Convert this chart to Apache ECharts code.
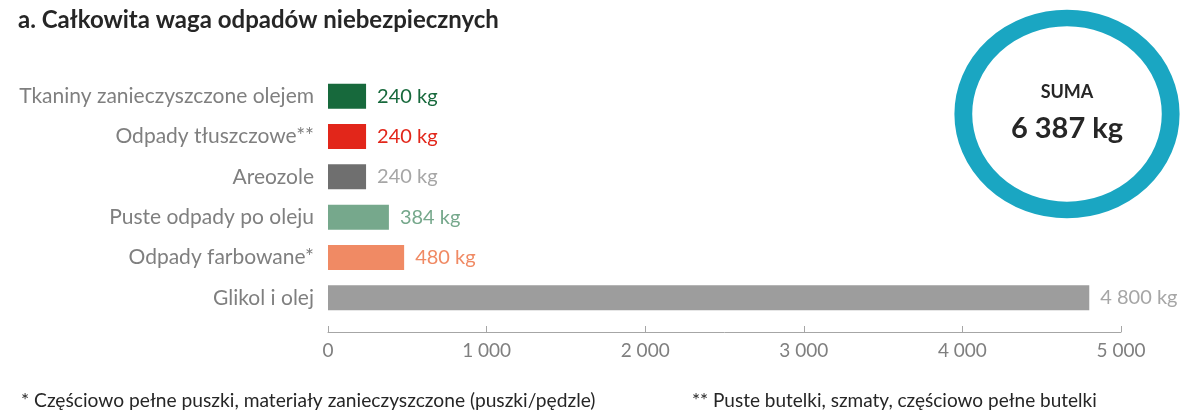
<!DOCTYPE html>
<html>
<head>
<meta charset="utf-8">
<script src="https://cdn.jsdelivr.net/npm/echarts@6/dist/echarts.min.js"></script>
<style>
  html, body { margin: 0; padding: 0; background: #ffffff; }
  #chart { width: 1182px; height: 411px; }
</style>
</head>
<body>
<div id="chart"></div>
<script>
// Hazardous waste by type, in kilograms
const categories = [
  'Tkaniny zanieczyszczone olejem',
  'Odpady tłuszczowe**',
  'Areozole',
  'Puste odpady po oleju',
  'Odpady farbowane*',
  'Glikol i olej'
];
const values = [240, 240, 240, 384, 480, 4800];
const total = 6387;
const axisTicks = [0, 1000, 2000, 3000, 4000, 5000];
const titleText = 'a. Całkowita waga odpadów niebezpiecznych';
const footnotes = [
  '* Częściowo pełne puszki, materiały zanieczyszczone (puszki/pędzle)',
  '** Puste butelki, szmaty, częściowo pełne butelki'
];

// Styling per bar
const barColors = ['#17693c', '#e2261a', '#6f6f6f', '#76a88c', '#f08a64', '#9d9d9d'];
const labelColors = ['#17693c', '#e2261a', '#a6a6a6', '#76a88c', '#f08a64', '#a6a6a6'];

const FONT = 'Lato, "Open Sans", sans-serif';

function fmt(n) {
  return String(n).replace(/\B(?=(\d{3})+(?!\d))/g, '\u00a0');
}

const chart = echarts.init(document.getElementById('chart'), null, { renderer: 'canvas' });

chart.setOption({
  backgroundColor: '#ffffff',
  animation: false,
  textStyle: { fontFamily: FONT },
  title: {
    text: titleText,
    left: 13,
    top: 3,
    textStyle: { fontFamily: FONT, fontSize: 24, fontWeight: 'bold', color: '#262626' }
  },
  grid: { left: 328, right: 61, top: 76, bottom: 93, containLabel: false },
  xAxis: {
    type: 'value',
    min: axisTicks[0],
    max: axisTicks[axisTicks.length - 1],
    interval: axisTicks[1] - axisTicks[0],
    offset: 14,
    splitLine: { show: false },
    axisLine: { show: true, lineStyle: { color: '#a6a6a6', width: 1 } },
    axisTick: { show: true, inside: true, length: 6, lineStyle: { color: '#a6a6a6' } },
    axisLabel: {
      margin: 9,
      color: '#7f7f7f',
      fontSize: 19,
      fontFamily: FONT,
      formatter: v => fmt(v)
    }
  },
  yAxis: {
    type: 'category',
    inverse: true,
    data: categories,
    axisLine: { show: false },
    axisTick: { show: false },
    axisLabel: { margin: 14, color: '#7f7f7f', fontSize: 21, fontFamily: FONT }
  },
  series: [{
    type: 'bar',
    barWidth: 25,
    data: values.map((v, i) => ({
      value: v,
      itemStyle: { color: barColors[i] },
      label: { color: labelColors[i] }
    })),
    label: {
      show: true,
      position: 'right',
      distance: 11,
      fontSize: 20,
      fontFamily: FONT,
      formatter: p => fmt(p.value) + ' kg'
    }
  }],
  graphic: [
    {
      type: 'circle',
      x: 1067, y: 114,
      scaleX: 1.08, scaleY: 1,
      shape: { cx: 0, cy: 0, r: 96 },
      style: { fill: 'none', stroke: '#1aa6c2', lineWidth: 16.5 }
    },
    {
      type: 'text',
      x: 1067, y: 92,
      style: {
        text: 'SUMA', fontSize: 18, fontWeight: 'bold', fontFamily: FONT,
        fill: '#262626', align: 'center', verticalAlign: 'middle'
      }
    },
    {
      type: 'text',
      x: 1067, y: 129,
      style: {
        text: fmt(total) + ' kg', fontSize: 29, fontWeight: 'bold', fontFamily: FONT,
        fill: '#262626', align: 'center', verticalAlign: 'middle'
      }
    },
    {
      type: 'text',
      x: 21, y: 401,
      style: {
        text: footnotes[0], fontSize: 19.2, fontFamily: FONT,
        fill: '#262626', align: 'left', verticalAlign: 'middle'
      }
    },
    {
      type: 'text',
      x: 692, y: 401,
      style: {
        text: footnotes[1], fontSize: 19, fontFamily: FONT,
        fill: '#262626', align: 'left', verticalAlign: 'middle'
      }
    }
  ]
});
</script>
</body>
</html>
